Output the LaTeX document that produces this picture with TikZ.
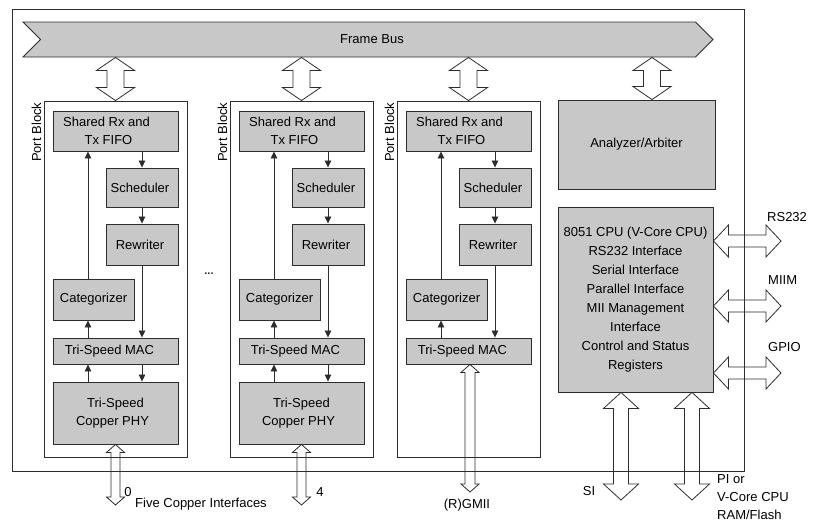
\documentclass[tikz,border=0pt]{standalone}
\usepackage{fontspec}
\setmainfont{Liberation Sans}
\usepackage{tikz}
\usetikzlibrary{calc,positioning,arrows.meta,shapes.symbols}

\definecolor{boxgray}{RGB}{200,200,200}
\definecolor{linegray}{RGB}{45,45,45}

\tikzset{
  unit/.style={draw=linegray,fill=boxgray,line width=0.9pt,align=center,inner sep=0pt,font=\fontsize{13}{18}\selectfont},
  portblk/.style={draw=linegray,line width=0.9pt,minimum width=143pt,minimum height=356pt},
  flow/.style={draw=linegray,line width=0.8pt,-{Triangle[length=7pt,width=6.5pt]}},
  hollow/.style={draw=linegray,line width=0.8pt,line join=miter},
  lbl/.style={font=\fontsize{13}{18}\selectfont,inner sep=1pt}
}

% hollow double arrows: (from) (to) half shaft, half head, head length
\newcommand{\vdbl}[5]{\draw[hollow] let \p1=(#1), \p2=(#2) in
  (\x1,\y1) -- (\x1+#4pt,\y1-#5pt) -- (\x1+#3pt,\y1-#5pt) -- (\x1+#3pt,\y2+#5pt) -- (\x1+#4pt,\y2+#5pt)
  -- (\x1,\y2) -- (\x1-#4pt,\y2+#5pt) -- (\x1-#3pt,\y2+#5pt) -- (\x1-#3pt,\y1-#5pt) -- (\x1-#4pt,\y1-#5pt) -- cycle;}
\newcommand{\hdbl}[5]{\draw[hollow] let \p1=(#1), \p2=(#2) in
  (\x1,\y1) -- (\x1+#5pt,\y1+#4pt) -- (\x1+#5pt,\y1+#3pt) -- (\x2-#5pt,\y1+#3pt) -- (\x2-#5pt,\y1+#4pt)
  -- (\x2,\y1) -- (\x2-#5pt,\y1-#4pt) -- (\x2-#5pt,\y1-#3pt) -- (\x1+#5pt,\y1-#3pt) -- (\x1+#5pt,\y1-#4pt) -- cycle;}

\begin{document}
\begin{tikzpicture}[x=1pt,y=-1pt]
  \useasboundingbox (0,0) rectangle (820,525);
  % device outline
  \draw[draw=linegray,line width=0.9pt] (12,9) rectangle (744,471);

  \node[unit,signal,signal from=west,signal to=east,signal pointer angle=90,
        minimum width=690pt,minimum height=35pt] (bus) at (368,39.5) {\hspace*{8pt}Frame Bus};

  % port blocks
  \foreach \i/\dx in {1/0,2/186,3/353}{
    \node[portblk] (blk\i) at (115.5+\dx,279) {};
    \node[lbl,rotate=90,anchor=south east,inner sep=2pt] (pb\i) at (blk\i.north west) {Port Block};
    \node[unit,minimum width=125pt,minimum height=40pt] (fifo\i) at (115.5+\dx,131) {Shared Rx and\hspace*{18pt}\\Tx FIFO\hspace*{14pt}};
    \node[unit,minimum width=72pt,minimum height=39pt] (sch\i) at (142+\dx,187.5) {Scheduler\hspace*{4pt}};
    \node[unit,minimum width=72pt,minimum height=41pt] (rew\i) at (142+\dx,244.5) {Rewriter\hspace*{4pt}};
    \node[unit,minimum width=81pt,minimum height=41pt] (cat\i) at (93.5+\dx,299.5) {Categorizer};
    \node[unit,minimum width=125pt,minimum height=26pt] (mac\i) at (115.5+\dx,351) {Tri-Speed MAC\hspace*{12pt}};
    \coordinate (up\i) at (88+\dx,0);
    \draw[flow] (sch\i.north |- fifo\i.south) -- (sch\i.north);
    \draw[flow] (sch\i.south) -- (rew\i.north);
    \draw[flow] (rew\i.south) -- (rew\i.south |- mac\i.north);
    \draw[flow] (up\i |- cat\i.north) -- (up\i |- fifo\i.south);
    \draw[flow] (up\i |- mac\i.north) -- (up\i |- cat\i.south);
    \vdbl{blk\i.north |- bus.south}{blk\i.north}{8.5}{19}{13}
  }

  % copper PHYs
  \foreach \i/\dx in {1/0,2/186}{
    \node[unit,minimum width=125pt,minimum height=62pt] (phy\i) at (115.5+\dx,413) {Tri-Speed\\Copper PHY\hspace*{6pt}};
    \draw[flow] (up\i |- phy\i.north) -- (up\i |- mac\i.south);
    \draw[flow] (sch\i.south |- mac\i.south) -- (sch\i.south |- phy\i.north);
    \coordinate (cu\i) at (115+\dx,505);
    \vdbl{phy\i.south}{cu\i}{4.5}{9}{8}
  }
  \node[lbl] (n0) at (128,492) {0};
  \node[lbl] (n4) at (320,492) {4};
  \node[lbl] (cuifs) at (201,504) {Five Copper Interfaces};
  \node[font=\fontsize{11}{11}\selectfont\bfseries,text=linegray,inner sep=0pt] (dots) at (209,274) {...};

  \coordinate (gmii) at (470,492);
  \vdbl{gmii |- mac3.south}{gmii}{5}{9}{8}
  \node[lbl] (gmiilbl) at (467,505) {(R)GMII};

  % analyzer and CPU
  \node[unit,minimum width=157pt,minimum height=89pt] (arb) at (636.5,144.5) {Analyzer/Arbiter};
  \coordinate (arbio) at (652,0);
  \vdbl{arbio |- bus.south}{arbio |- arb.north}{8.5}{19}{13}

  \node[unit,minimum width=155pt,minimum height=185pt,font=\fontsize{13}{19}\selectfont] (cpu) at (635.5,299.5)
    {8051 CPU (V-Core CPU)\\RS232 Interface\\Serial Interface\\Parallel Interface\\MII Management\\Interface\\Control and Status\\Registers};

  \coordinate (rs) at (781,241);
  \coordinate (miim) at (781,306);
  \coordinate (gpio) at (781,373);
  \hdbl{cpu.east |- rs}{rs}{6}{16}{15}
  \hdbl{cpu.east |- miim}{miim}{6}{16}{15}
  \hdbl{cpu.east |- gpio}{gpio}{6}{16}{15}
  \node[lbl,anchor=west] (rslbl) at (766,217) {RS232};
  \node[lbl,anchor=west] (miimlbl) at (767,280) {MIIM};
  \node[lbl,anchor=west] (gpiolbl) at (767,347) {GPIO};

  \coordinate (si) at (621,500);
  \coordinate (pi) at (692,500);
  \vdbl{si |- cpu.south}{si}{7.5}{17.5}{16}
  \vdbl{pi |- cpu.south}{pi}{7.5}{17.5}{16}
  \node[lbl] (silbl) at (589,491) {SI};
  \node[lbl,anchor=north west,align=left] (pilbl) at (716,473) {PI or\\V-Core CPU\\RAM/Flash};
\end{tikzpicture}
\end{document}
